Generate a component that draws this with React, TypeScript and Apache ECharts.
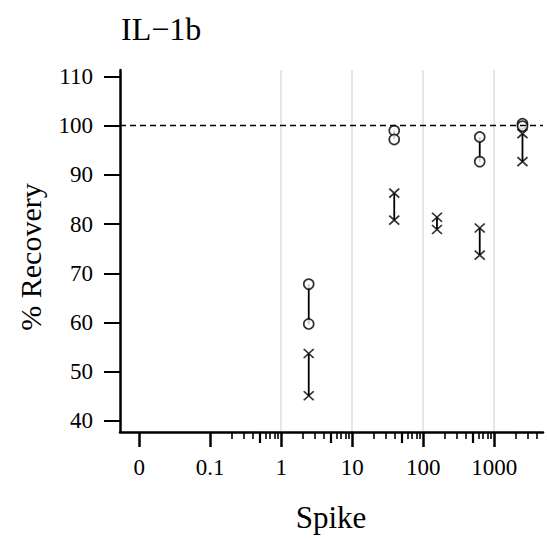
import React, { useEffect, useRef } from "react";
import * as echarts from "echarts";

// ---- data ----
const spikes = [2.44, 39.06, 156.25, 625, 2500];
const circleHigh: (number | null)[] = [67.8, 99.0, null, 97.7, 100.4];
const circleLow: (number | null)[] = [59.7, 97.2, null, 92.7, 99.9];
const crossHigh: (number | null)[] = [53.7, 86.3, 81.4, 79.2, 98.4];
const crossLow: (number | null)[] = [45.1, 80.8, 78.9, 73.7, 92.7];

const xMajorTicks = [0.01, 0.1, 1, 10, 100, 1000];
const xMajorLabels = ["0", "0.1", "1", "10", "100", "1000"];
const xMidTicks = [0.5, 5, 50, 500];
const xMinorTicks = [
  0.2, 0.3, 0.4, 0.6, 0.7, 0.8, 0.9,
  2, 3, 4, 6, 7, 8, 9,
  20, 30, 40, 60, 70, 80, 90,
  200, 300, 400, 600, 700, 800, 900,
  2000, 3000, 4000,
];
const xGridLines = [1, 10, 100, 1000];
const yTicks = [40, 50, 60, 70, 80, 90, 100, 110];
const referenceLine = 100;

const titleText = "IL\u22121b";
const xTitle = "Spike";
const yTitle = "% Recovery";

const FONT = '"Liberation Serif", "DejaVu Serif", serif';
const lg = (v: number) => Math.log10(v);

const X_MIN = -2.271;
const X_MAX = 3.687;
const Y_MIN = 37.74;
const Y_MAX = 111.32;

export default function App() {
  const ref = useRef<HTMLDivElement>(null);

  useEffect(() => {
    document.body.style.margin = "0";
    if (!ref.current) return;
    const chart = echarts.init(ref.current, undefined, { renderer: "svg" });

    const pairRows: number[][] = [];
    const circlePts: number[][] = [];
    const crossPts: number[][] = [];
    spikes.forEach((s, i) => {
      const x = lg(s);
      const ch = circleHigh[i];
      const cl = circleLow[i];
      const xh = crossHigh[i];
      const xl = crossLow[i];
      if (ch != null && cl != null) {
        pairRows.push([x, cl, ch]);
        circlePts.push([x, ch], [x, cl]);
      }
      if (xh != null && xl != null) {
        pairRows.push([x, xl, xh]);
        crossPts.push([x, xh], [x, xl]);
      }
    });

    const baseX = {
      type: "value" as const,
      gridIndex: 0,
      min: X_MIN,
      max: X_MAX,
      position: "bottom" as const,
      splitLine: { show: false },
    };

    const labelFor = (v: number) => {
      const i = xMajorTicks.findIndex((t) => Math.abs(lg(t) - v) < 1e-6);
      return i >= 0 ? xMajorLabels[i] : "";
    };

    chart.setOption({
      animation: false,
      backgroundColor: "#fff",
      grid: { left: 120, right: 4, top: 70, bottom: 108, containLabel: false },
      xAxis: [
        {
          ...baseX,
          axisLine: { show: true, onZero: false, lineStyle: { color: "#000", width: 2.5 } },
          axisTick: {
            show: true,
            customValues: xMajorTicks.map(lg),
            length: 15,
            lineStyle: { color: "#000", width: 2.5 },
          },
          axisLabel: {
            show: true,
            customValues: xMajorTicks.map(lg),
            formatter: (v: number) => labelFor(v),
            margin: 24,
            fontSize: 23,
            fontFamily: FONT,
            color: "#000",
          },
        },
        {
          ...baseX,
          axisLine: { show: false },
          axisTick: {
            show: true,
            customValues: xMinorTicks.map(lg),
            length: 7,
            lineStyle: { color: "#000", width: 1.6 },
          },
          axisLabel: { show: false },
        },
        {
          ...baseX,
          axisLine: { show: false },
          axisTick: {
            show: true,
            customValues: xMidTicks.map(lg),
            length: 11,
            lineStyle: { color: "#000", width: 2.2 },
          },
          axisLabel: { show: false },
        },
        {
          ...baseX,
          axisLine: { show: false },
          axisTick: { show: false, customValues: xGridLines.map(lg) },
          axisLabel: { show: false, customValues: xGridLines.map(lg) },
          splitLine: { show: true, lineStyle: { color: "#e4e4e4", width: 1.8 } },
        },
      ],
      yAxis: {
        type: "value",
        min: Y_MIN,
        max: Y_MAX,
        axisLine: { show: true, onZero: false, lineStyle: { color: "#000", width: 2.5 } },
        axisTick: {
          show: true,
          customValues: yTicks,
          length: 16,
          lineStyle: { color: "#000", width: 2 },
        },
        axisLabel: {
          show: true,
          customValues: yTicks,
          margin: 27,
          fontSize: 23,
          fontFamily: FONT,
          color: "#000",
        },
        splitLine: { show: false },
      },
      graphic: [
        {
          type: "text",
          x: 121,
          y: 29,
          style: {
            text: titleText,
            fill: "#000",
            fontSize: 32,
            fontFamily: FONT,
            align: "left",
            verticalAlign: "middle",
          },
        },
        {
          type: "text",
          x: 30,
          y: 257,
          rotation: Math.PI / 2,
          style: {
            text: yTitle,
            fill: "#000",
            fontSize: 30,
            fontFamily: FONT,
            align: "center",
            verticalAlign: "middle",
          },
        },
        {
          type: "text",
          x: 331,
          y: 517,
          style: {
            text: xTitle,
            fill: "#000",
            fontSize: 31,
            fontFamily: FONT,
            align: "center",
            verticalAlign: "middle",
          },
        },
      ],
      series: [
        {
          type: "custom",
          xAxisIndex: 0,
          yAxisIndex: 0,
          data: pairRows,
          encode: { x: 0, y: [1, 2] },
          z: 2,
          renderItem: (_params: any, api: any) => {
            const p1 = api.coord([api.value(0), api.value(1)]);
            const p2 = api.coord([api.value(0), api.value(2)]);
            return {
              type: "line",
              shape: { x1: p1[0], y1: p1[1], x2: p2[0], y2: p2[1] },
              style: { stroke: "#000", lineWidth: 1.8 },
            };
          },
        },
        {
          type: "scatter",
          xAxisIndex: 0,
          yAxisIndex: 0,
          data: circlePts,
          symbol: "circle",
          symbolSize: 10,
          z: 3,
          itemStyle: { color: "#fff", borderColor: "#000", borderWidth: 1.7 },
          markLine: {
            silent: true,
            symbol: "none",
            label: { show: false },
            lineStyle: { color: "#000", width: 1.3, type: [6, 4] },
            data: [{ yAxis: referenceLine }],
          },
        },
        {
          type: "scatter",
          xAxisIndex: 0,
          yAxisIndex: 0,
          data: crossPts,
          symbol: "path://M0,0L10,9M10,0L0,9",
          symbolSize: [10, 9],
          z: 3,
          itemStyle: { color: "none", borderColor: "#000", borderWidth: 1.7 },
        },
      ],
    });

    return () => chart.dispose();
  }, []);

  return <div ref={ref} style={{ width: 547, height: 540 }} />;
}
